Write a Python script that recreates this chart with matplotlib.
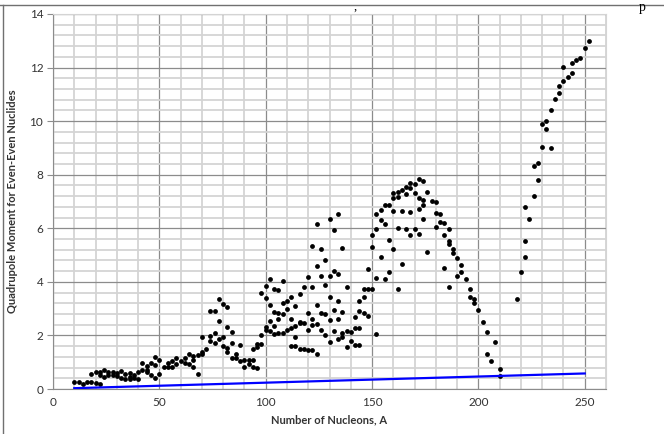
import matplotlib
matplotlib.use("Agg")
import matplotlib.pyplot as plt
from matplotlib.ticker import MultipleLocator
from matplotlib.lines import Line2D

# Data: mass number A and quadrupole moment
A_low = [10, 12, 14, 16, 18, 20, 22, 18, 20, 22, 22, 24, 24, 26, 26, 28, 28, 30, 30,
         32, 32, 34, 34, 36, 36, 36, 38, 38, 40, 40, 42, 42, 44, 44, 44, 46, 46, 48,
         48, 48, 50, 50]
Q_low = [0.28, 0.26, 0.19, 0.26, 0.25, 0.22, 0.17, 0.56, 0.63, 0.62, 0.52, 0.70, 0.46,
         0.62, 0.52, 0.62, 0.52, 0.60, 0.50, 0.66, 0.40, 0.57, 0.36, 0.60, 0.38, 0.45,
         0.53, 0.40, 0.38, 0.62, 0.70, 0.97, 0.85, 0.62, 0.70, 0.98, 0.52, 1.20, 0.40,
         0.88, 1.07, 0.57]

A_mid1 = [52, 54, 54, 56, 56, 58, 58, 60, 62, 62, 64, 64, 66, 66, 66, 68, 68, 70, 70,
          70, 72, 74, 74, 74, 76, 76, 76, 78, 78, 78, 80, 80, 80, 82, 82, 82, 82, 84,
          84, 84, 86, 86, 88, 88, 90, 90, 92, 92, 94, 94, 94, 96, 96, 96, 98, 98, 98]
Q_mid1 = [0.83, 0.84, 0.97, 1.06, 0.81, 1.14, 0.92, 1.03, 1.14, 0.97, 1.32, 0.93, 1.23,
          1.07, 0.83, 1.27, 0.55, 1.37, 1.96, 1.30, 1.49, 1.78, 1.99, 2.93, 2.93, 2.09,
          1.71, 2.55, 1.88, 3.35, 1.94, 3.17, 1.61, 3.08, 2.30, 1.53, 1.37, 2.14, 1.71,
          1.16, 1.30, 1.16, 1.63, 1.03, 0.81, 1.09, 1.09, 0.93, 1.49, 1.09, 0.84, 0.78,
          1.68, 1.55, 1.68, 2.02, 3.60]

A_mid2 = [100, 100, 100, 100, 102, 102, 102, 102, 104, 104, 104, 104, 106, 106, 106,
          106, 108, 108, 108, 108, 110, 110, 110, 112, 112, 112, 112, 114, 114, 114,
          114, 116, 116, 116, 116, 118, 118, 118, 120, 120, 120, 120, 122, 122, 122,
          122, 122, 124, 124, 124, 124, 124, 126, 126, 126, 126, 128, 128, 128, 128,
          130, 130, 130, 130, 130, 132, 132, 132, 132, 134, 134, 134, 134, 134, 136,
          136, 136, 136, 138, 138, 138, 140, 140, 142, 142, 142, 144, 144, 144, 144,
          146, 146, 146, 148, 148, 148, 150, 150, 150, 152, 152, 152, 152]
Q_mid2 = [3.83, 3.39, 2.30, 2.21, 4.10, 3.14, 2.55, 2.17, 2.87, 2.34, 3.73, 2.05, 3.68,
          2.83, 2.61, 2.09, 4.04, 3.20, 2.80, 2.09, 3.27, 2.98, 2.21, 3.45, 2.62, 2.27,
          1.59, 3.11, 2.36, 1.96, 1.59, 3.54, 2.52, 2.46, 1.49, 3.79, 2.46, 1.49, 4.20,
          2.83, 2.21, 1.47, 5.34, 3.80, 2.61, 2.40, 1.44, 6.15, 4.61, 3.14, 2.43, 1.32,
          5.22, 4.22, 2.83, 2.21, 4.82, 3.89, 2.80, 2.00, 6.34, 4.22, 3.45, 2.58, 1.75,
          5.94, 4.39, 2.96, 2.17, 6.52, 4.29, 3.27, 2.61, 1.86, 5.25, 2.89, 1.96, 2.09,
          3.79, 2.17, 1.55, 2.11, 1.78, 2.68, 2.27, 1.65, 3.29, 2.92, 2.27, 1.65, 3.42,
          3.73, 2.83, 4.47, 3.73, 2.73, 3.73, 5.32, 5.75, 2.05, 4.14, 5.96, 6.52]

A_high = [154, 154, 154, 156, 156, 156, 158, 158, 158, 160, 160, 160, 160, 162, 162,
          162, 162, 164, 164, 164, 166, 166, 166, 168, 168, 168, 168, 170, 170, 170,
          172, 172, 172, 172, 174, 174, 174, 174, 176, 176, 178, 180, 180, 180, 182,
          182, 184, 184, 184, 186, 186, 186, 186, 188, 188, 190, 190, 192, 192, 194,
          196, 196, 198, 198, 200, 202, 204, 204, 206, 208, 210, 210]
Q_high = [6.68, 6.31, 4.94, 6.16, 6.87, 4.10, 6.87, 5.57, 4.36, 7.14, 6.66, 5.22, 7.30,
          7.37, 7.16, 6.00, 3.73, 7.43, 6.66, 4.67, 7.53, 7.28, 5.96, 7.70, 7.49, 6.60,
          5.75, 7.67, 7.33, 5.96, 7.84, 7.14, 6.72, 5.79, 7.78, 7.06, 6.87, 6.35, 7.34,
          5.11, 7.01, 6.97, 6.56, 6.04, 6.53, 6.25, 6.19, 5.75, 4.53, 5.98, 5.54, 5.42,
          3.79, 5.22, 5.07, 4.88, 4.22, 4.63, 4.36, 4.10, 3.73, 3.45, 3.35, 3.20, 2.96,
          2.52, 2.11, 1.32, 1.06, 1.75, 0.75, 0.50]

A_heavy = [218, 220, 222, 222, 222, 224, 226, 228, 226, 228, 230, 230, 232, 232, 234,
           234, 236, 238, 238, 240, 240, 242, 244, 244, 246, 248, 250, 252]
Q_heavy = [3.35, 4.36, 4.91, 5.54, 6.81, 6.35, 7.20, 7.80, 8.34, 8.45, 9.02, 9.91, 10.01,
           9.69, 8.98, 10.41, 10.84, 11.06, 11.30, 11.49, 12.02, 11.66, 11.78, 12.17,
           12.30, 12.34, 12.73, 12.98]

line_A = [10, 250]
line_Q = [0.03, 0.58]

A_all = A_low + A_mid1 + A_mid2 + A_high + A_heavy
Q_all = Q_low + Q_mid1 + Q_mid2 + Q_high + Q_heavy

plt.rcParams['font.family'] = ['Lato', 'DejaVu Sans']

fig = plt.figure(figsize=(6.64, 4.34), dpi=100)
ax = fig.add_axes([53/664, 45/434, (606-53)/664, (420-45)/434])

ax.set_xlim(0, 260)
ax.set_ylim(0, 14)
ax.xaxis.set_major_locator(MultipleLocator(50))
ax.xaxis.set_minor_locator(MultipleLocator(10))
ax.yaxis.set_major_locator(MultipleLocator(2))
ax.yaxis.set_minor_locator(MultipleLocator(0.4))

ax.grid(which='minor', color='#d4d4d4', linewidth=1.3, zorder=0)
ax.grid(which='major', color='#8c8c8c', linewidth=0.9, zorder=1)
ax.set_axisbelow(True)

ax.scatter(A_all, Q_all, s=12, color='black', zorder=3, linewidths=0)
ax.plot(line_A, line_Q, color='#0000ff', linewidth=1.6, zorder=4)

for side in ['top', 'right']:
    ax.spines[side].set_color('#d4d4d4')
for side in ['left', 'bottom']:
    ax.spines[side].set_color('#8c8c8c')

ax.tick_params(axis='both', which='major', labelsize=8.5, length=4, color='#8c8c8c',
               direction='out', pad=3, labelcolor='#333333')
ax.tick_params(axis='x', which='major', length=0, pad=6)
ax.tick_params(axis='both', which='minor', length=0)

ax.set_xlabel('Number of Nucleons, A', fontsize=8, fontweight='bold', labelpad=4,
              color='#333333')
ax.set_ylabel('Quadrupole Moment for Even-Even Nuclides', fontsize=8,
              fontweight='bold', labelpad=8, color='#333333')

# surrounding page frame fragments
fig.add_artist(Line2D([0, 1], [1 - 5/434, 1 - 5/434], color='#707070', linewidth=1))
fig.add_artist(Line2D([3/664, 3/664], [0, 1 - 5/434], color='#707070', linewidth=1))
fig.text(355/664, 1 - 1/434, ',', fontsize=9, family='Liberation Serif',
         ha='center', va='top')
fig.text(642/664, 1 - 1/434, 'p', fontsize=10, family='Liberation Serif',
         ha='center', va='top')

fig.savefig('out.png', dpi=100)
